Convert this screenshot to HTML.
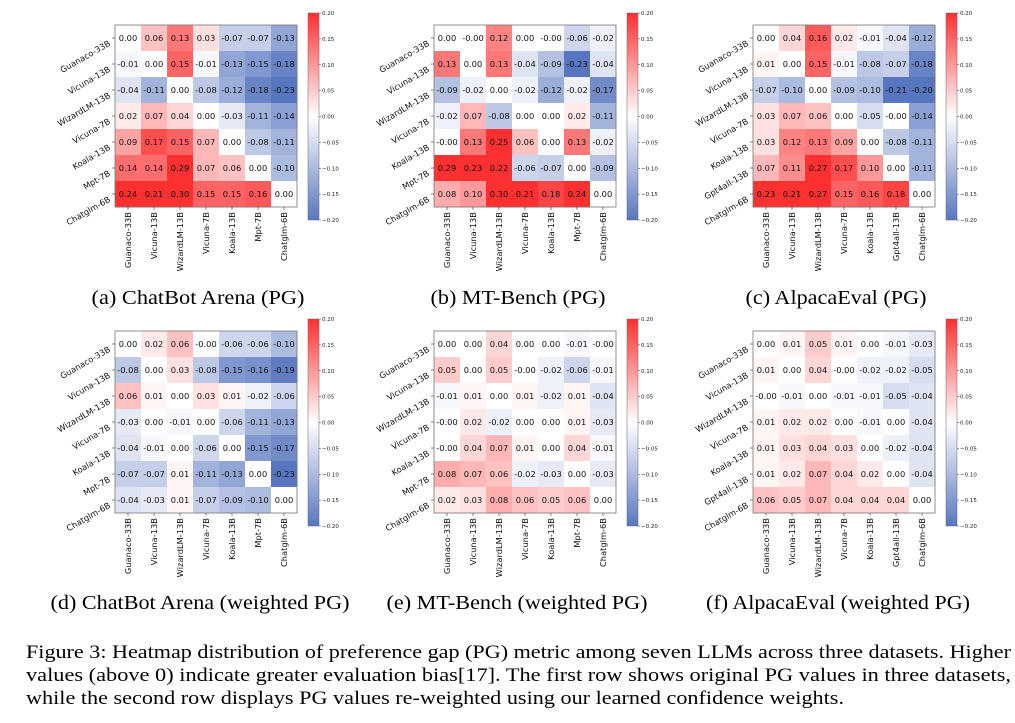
<!DOCTYPE html>
<html><head><meta charset="utf-8"><style>
body{margin:0;background:#fff;}
svg{display:block;}
</style></head><body>
<svg id="fig" width="1015" height="723" xmlns="http://www.w3.org/2000/svg"></svg>
<script>
const modelsA = ["Guanaco-33B","Vicuna-13B","WizardLM-13B","Vicuna-7B","Koala-13B","Mpt-7B","Chatglm-6B"];
const modelsC = ["Guanaco-33B","Vicuna-13B","WizardLM-13B","Vicuna-7B","Koala-13B","Gpt4all-13B","Chatglm-6B"];
const cbTicks = [0.20,0.15,0.10,0.05,0.00,-0.05,-0.10,-0.15,-0.20];
const valuesA = [[0.00,0.06,0.13,0.03,-0.07,-0.07,-0.13],[-0.01,0.00,0.15,-0.01,-0.13,-0.15,-0.18],[-0.04,-0.11,0.00,-0.08,-0.12,-0.18,-0.23],[0.02,0.07,0.04,0.00,-0.03,-0.11,-0.14],[0.09,0.17,0.15,0.07,0.00,-0.08,-0.11],[0.14,0.14,0.29,0.07,0.06,0.00,-0.10],[0.24,0.21,0.30,0.15,0.15,0.16,0.00]];
const valuesB = [[0.00,-0.00,0.12,0.00,-0.00,-0.06,-0.02],[0.13,0.00,0.13,-0.04,-0.09,-0.23,-0.04],[-0.09,-0.02,0.00,-0.02,-0.12,-0.02,-0.17],[-0.02,0.07,-0.08,0.00,0.00,0.02,-0.11],[-0.00,0.13,0.25,0.06,0.00,0.13,-0.02],[0.29,0.23,0.22,-0.06,-0.07,0.00,-0.09],[0.08,0.10,0.30,0.21,0.18,0.24,0.00]];
const valuesC = [[0.00,0.04,0.16,0.02,-0.01,-0.04,-0.12],[0.01,0.00,0.15,-0.01,-0.08,-0.07,-0.18],[-0.07,-0.10,0.00,-0.09,-0.10,-0.21,-0.20],[0.03,0.07,0.06,0.00,-0.05,-0.00,-0.14],[0.03,0.12,0.13,0.09,0.00,-0.08,-0.11],[0.07,0.11,0.27,0.17,0.10,0.00,-0.11],[0.23,0.21,0.27,0.15,0.16,0.18,0.00]];
const valuesD = [[0.00,0.02,0.06,-0.00,-0.06,-0.06,-0.10],[-0.08,0.00,0.03,-0.08,-0.15,-0.16,-0.19],[0.06,0.01,0.00,0.03,0.01,-0.02,-0.06],[-0.03,0.00,-0.01,0.00,-0.06,-0.11,-0.13],[-0.04,-0.01,0.00,-0.06,0.00,-0.15,-0.17],[-0.07,-0.07,0.01,-0.11,-0.13,0.00,-0.23],[-0.04,-0.03,0.01,-0.07,-0.09,-0.10,0.00]];
const valuesE = [[0.00,0.00,0.04,0.00,0.00,-0.01,-0.00],[0.05,0.00,0.05,-0.00,-0.02,-0.06,-0.01],[-0.01,0.01,0.00,0.01,-0.02,0.01,-0.04],[-0.00,0.02,-0.02,0.00,0.00,0.01,-0.03],[-0.00,0.04,0.07,0.01,0.00,0.04,-0.01],[0.08,0.07,0.06,-0.02,-0.03,0.00,-0.03],[0.02,0.03,0.08,0.06,0.05,0.06,0.00]];
const valuesF = [[0.00,0.01,0.05,0.01,0.00,-0.01,-0.03],[0.01,0.00,0.04,-0.00,-0.02,-0.02,-0.05],[-0.00,-0.01,0.00,-0.01,-0.01,-0.05,-0.04],[0.01,0.02,0.02,0.00,-0.01,0.00,-0.04],[0.01,0.03,0.04,0.03,0.00,-0.02,-0.04],[0.01,0.02,0.07,0.04,0.02,0.00,-0.04],[0.06,0.05,0.07,0.04,0.04,0.04,0.00]];
const captions = ["(a) ChatBot Arena (PG)","(b) MT-Bench (PG)","(c) AlpacaEval (PG)","(d) ChatBot Arena (weighted PG)","(e) MT-Bench (weighted PG)","(f) AlpacaEval (weighted PG)"];

const NS="http://www.w3.org/2000/svg";
const svg=document.getElementById('fig');
function mk(tag,attrs,parent){const e=document.createElementNS(NS,tag);for(const k in attrs)e.setAttribute(k,attrs[k]);(parent||svg).appendChild(e);return e;}
function color(v){
  let t=Math.max(-1,Math.min(1,v/0.2));
  let r,g,b;
  if(t>=0){r=255;g=255+(48-255)*t;b=255+(48-255)*t;}
  else{t=-t;r=255+(88-255)*t;g=255+(118-255)*t;b=255+(192-255)*t;}
  return `rgb(${Math.round(r)},${Math.round(g)},${Math.round(b)})`;
}
const panels=[
 {x:115,y:25,v:valuesA,m:modelsA,cx:198,cy:304,w:213},
 {x:434,y:25,v:valuesB,m:modelsA,cx:518,cy:304,w:175},
 {x:753,y:25,v:valuesC,m:modelsC,cx:836,cy:304,w:181},
 {x:115,y:331,v:valuesD,m:modelsA,cx:200,cy:609,w:299},
 {x:434,y:331,v:valuesE,m:modelsA,cx:517,cy:609,w:261},
 {x:753,y:331,v:valuesF,m:modelsC,cx:838,cy:609,w:264}];
const C=26;
const grad=mk('defs',{});
const lg=mk('linearGradient',{id:'cbg',x1:0,y1:0,x2:0,y2:1},grad);
for(let i=0;i<=20;i++){const v=0.2-0.02*i;mk('stop',{offset:(i/20),'stop-color':color(v)},lg);}
panels.forEach((p,pi)=>{
  const g=mk('g',{});
  
  
  const yS=r=>p.y+r*C, xS=c=>p.x+c*C;
  p.v.forEach((row,r)=>row.forEach((val,c)=>{
    const rc=mk('rect',{x:xS(c),y:yS(r),width:C+0.5,height:C+0.5,fill:color(val)},g);
    
    
    const t=mk('text',{x:xS(c)+C/2,y:yS(r)+C/2+3,'text-anchor':'middle','font-size':'8.3','font-family':'"DejaVu Sans","Liberation Sans",sans-serif',fill:'#111'},g);
    t.textContent=val.toFixed(2);
    if(val===0 && 1/val<0) t.textContent='-0.00';
  }));
  mk('rect',{x:p.x,y:p.y,width:7*C,height:7*C,fill:'none',stroke:'#777','stroke-width':0.8},g);
  p.m.forEach((name,i)=>{
    const yy=yS(i)+C/2;
    mk('line',{x1:p.x-3,y1:yy,x2:p.x,y2:yy,stroke:'#333','stroke-width':0.6},g);
    const t=mk('text',{x:0,y:0,'text-anchor':'end','font-size':'8.3','font-family':'"DejaVu Sans","Liberation Sans",sans-serif',fill:'#111',transform:`translate(${p.x-4},${yy+7}) rotate(-30)`},g);
    t.textContent=name;
    
    
    const xx=xS(i)+C/2;
    mk('line',{x1:xx,y1:p.y+7*C,x2:xx,y2:p.y+7*C+3,stroke:'#333','stroke-width':0.6},g);
    const t2=mk('text',{x:0,y:0,'text-anchor':'end','font-size':'8.3','font-family':'"DejaVu Sans","Liberation Sans",sans-serif',fill:'#111',transform:`translate(${xx+3},${p.y+7*C+5}) rotate(-90)`},g);
    t2.textContent=name;
    
    
  });
  const cbx=p.x+193, cby=p.y-12, cbh=207;
  const cb=mk('rect',{x:cbx,y:cby,width:11,height:cbh,fill:'url(#cbg)',stroke:'#666','stroke-width':0.5},g);
  
  
  cbTicks.forEach(tv=>{
    const yy=cby+(0.2-tv)/0.4*cbh;
    mk('line',{x1:cbx+11,y1:yy,x2:cbx+13,y2:yy,stroke:'#333','stroke-width':0.5},g);
    const t=mk('text',{x:cbx+14,y:yy+2,'font-size':'5.5','font-family':'"DejaVu Sans",sans-serif',fill:'#222'},g);
    t.textContent=(tv<0?'\u2212':'')+Math.abs(tv).toFixed(2);
  });
  const cap=mk('text',{x:p.cx-p.w/2,y:p.cy,'font-size':'20','font-family':'"Liberation Serif",serif',fill:'#000',textLength:p.w,lengthAdjust:'spacingAndGlyphs'});
  cap.textContent=captions[pi];
  
  
});
const lines=[["Figure 3: Heatmap distribution of preference gap (PG) metric among seven LLMs across three datasets. Higher",985],
["values (above 0) indicate greater evaluation bias[17]. The first row shows original PG values in three datasets,",985],
["while the second row displays PG values re-weighted using our learned confidence weights.",818]];
lines.forEach((l,i)=>{
  const t=mk('text',{x:26,y:658+i*23,'font-size':'19','font-family':'"Liberation Serif",serif',fill:'#000',textLength:l[1],lengthAdjust:'spacingAndGlyphs'});
  t.textContent=l[0];
  
  
});
</script>
</body></html>
